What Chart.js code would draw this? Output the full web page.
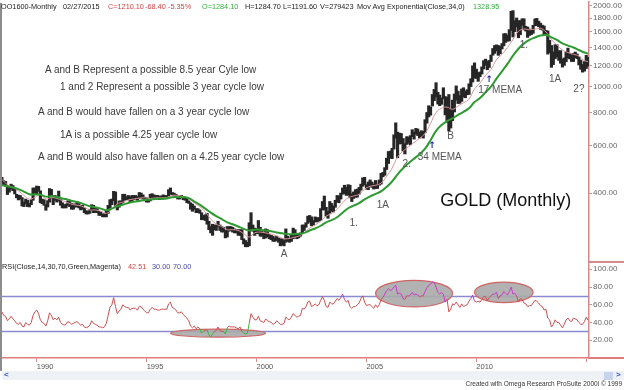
<!DOCTYPE html>
<html>
<head>
<meta charset="utf-8">
<script src="https://cdn.jsdelivr.net/npm/chart.js@4.4.1/dist/chart.umd.min.js"></script>
<style>
  body { margin: 0; background: #fff; width: 624px; height: 390px; overflow: hidden; position: relative; font-family: Arial, "Liberation Sans", sans-serif; }
  canvas { position: absolute; left: 0; }
  .t { position: absolute; white-space: pre; line-height: 1; }
  .hd { font-size: 7.3px; top: 2.5px; color: #222; }
  .note { font-size: 10px; color: #3a3a3a; }
  .red { color: #d04646; }
  .grn { color: #2fae3a; }
  .blu { color: #4a4ab0; }
</style>
</head>
<body>
<canvas id="priceChart" width="624" height="262" style="top:0"></canvas>
<canvas id="rsiChart" width="624" height="110" style="top:262px"></canvas>

<div style="position:absolute;left:0;top:3px;width:2px;height:368px;background:#8c8c8c"></div>
<div style="position:absolute;left:589px;top:261px;width:35px;height:1.5px;background:#d88a8a"></div>
<div style="position:absolute;left:589px;top:357px;width:35px;height:1.5px;background:#e07c7c"></div>

<span class="t hd" style="left:1px">OO1600-Monthly</span>
<span class="t hd" style="left:63px">02/27/2015</span>
<span class="t hd red" style="left:108px">C=1210.10</span>
<span class="t hd red" style="left:145px">-68.40</span>
<span class="t hd red" style="left:168px">-5.35%</span>
<span class="t hd grn" style="left:202px">O=1284.10</span>
<span class="t hd" style="left:245px">H=1284.70</span>
<span class="t hd" style="left:283px">L=1191.60</span>
<span class="t hd" style="left:320px">V=279423</span>
<span class="t hd" style="left:357px">Mov Avg Exponential(Close,34,0)</span>
<span class="t hd grn" style="left:473px">1328.95</span>

<span class="t note" style="left:45px;top:65px">A and B Represent a possible 8.5 year Cyle low</span>
<span class="t note" style="left:60px;top:82px">1 and 2 Represent a possible 3 year cycle low</span>
<span class="t note" style="left:38px;top:107px">A and B would have fallen on a 3 year cycle low</span>
<span class="t note" style="left:60px;top:130px">1A is a possible 4.25 year cycle low</span>
<span class="t note" style="left:38px;top:152px">A and B would also have fallen on a 4.25 year cycle low</span>

<span class="t" style="left:2px;top:263px;font-size:7.3px;color:#222">RSI(Close,14,30,70,Green,Magenta)</span>
<span class="t red" style="left:128px;top:263px;font-size:7.3px">42.51</span>
<span class="t blu" style="left:152px;top:263px;font-size:7.3px">30.00</span>
<span class="t blu" style="left:173px;top:263px;font-size:7.3px">70.00</span>

<div style="position:absolute;left:2px;top:371px;width:622px;height:9px;background:#eef1f6"></div>
<span class="t" style="left:4px;top:371px;font-size:8px;font-weight:bold;color:#3858c8">&lt;</span>
<div style="position:absolute;left:604px;top:372px;width:9px;height:8px;background:#c6d4ee"></div>
<span class="t" style="left:616px;top:371px;font-size:8px;font-weight:bold;color:#3858c8">&gt;</span>
<span class="t" style="right:2px;top:381px;font-size:6.5px;color:#333">Created with Omega Research ProSuite 2000i © 1999</span>

<script>
// monthly bars, June 1988 .. February 2015
const firstYear = 1988, firstMonth = 6, monthCount = 321;
const months = [];
for (let i = 0; i < monthCount; i++) {
    const m = firstMonth - 1 + i;
    months.push(`${firstYear + Math.floor(m / 12)}-${String(m % 12 + 1).padStart(2, '0')}`);
}

const highs = [
    458, 445, 442, 427, 420, 432, 427,                          // 1988
    414, 396, 393, 392, 385, 370, 380, 376, 366, 378, 418, 418, // 1989
    425, 424, 408, 380, 378, 362, 375, 416, 413, 388, 392, 386, // 1990
    407, 380, 368, 362, 364, 374, 372, 366, 364, 364, 372, 368, // 1991
    360, 360, 352, 344, 342, 348, 362, 360, 352, 350, 342, 340, // 1992
    334, 335, 342, 360, 378, 380, 406, 404, 362, 374, 374, 396, // 1993
    396, 388, 392, 388, 392, 392, 392, 388, 402, 400, 394, 386, // 1994
    384, 380, 396, 398, 394, 392, 392, 390, 390, 394, 392, 392, // 1995
    412, 418, 402, 400, 396, 392, 390, 392, 388, 384, 382, 374, // 1996
    368, 364, 358, 350, 350, 346, 338, 330, 332, 336, 314, 300, // 1997
    306, 304, 304, 314, 304, 300, 298, 290, 300, 300, 300, 298, // 1998
    294, 292, 292, 292, 292, 270, 266, 262, 310, 338, 304, 296, // 1999
    294, 316, 298, 290, 284, 294, 292, 280, 278, 276, 272, 276, // 2000
    272, 270, 270, 266, 294, 276, 272, 280, 296, 292, 280, 282, // 2001
    284, 304, 304, 310, 328, 330, 326, 316, 326, 324, 324, 350, // 2002
    372, 390, 354, 342, 372, 366, 358, 376, 392, 390, 400, 418, // 2003
    428, 420, 430, 428, 398, 404, 412, 414, 420, 432, 456, 458, // 2004
    430, 440, 448, 440, 432, 446, 432, 448, 474, 478, 498, 540, // 2005
    572, 574, 588, 660, 732, 676, 670, 668, 640, 612, 650, 648, // 2006
    656, 690, 676, 698, 694, 676, 684, 680, 752, 800, 848, 840, // 2007
    934, 976, 1034, 952, 930, 906, 990, 918, 912, 934, 830, 890, // 2008
    938, 1006, 962, 926, 980, 990, 962, 974, 1024, 1070, 1196, 1226, // 2009
    1162, 1128, 1134, 1184, 1250, 1266, 1246, 1252, 1312, 1388, 1424, 1432, // 2010
    1424, 1412, 1448, 1576, 1578, 1554, 1632, 1912, 1922, 1762, 1804, 1764, // 2011
    1764, 1792, 1792, 1680, 1668, 1640, 1632, 1694, 1790, 1798, 1756, 1726, // 2012
    1696, 1684, 1620, 1614, 1488, 1424, 1348, 1434, 1434, 1362, 1362, 1268, // 2013
    1280, 1346, 1392, 1332, 1316, 1332, 1346, 1324, 1290, 1256, 1210, 1240, // 2014
    1308, 1285                                                   // 2015
];

const lows = [
    436, 428, 424, 395, 403, 414, 408,
    397, 384, 377, 380, 358, 356, 364, 356, 355, 362, 376, 400,
    398, 406, 368, 365, 360, 345, 355, 370, 384, 362, 376, 370,
    374, 360, 352, 352, 352, 360, 356, 348, 348, 354, 356, 352,
    346, 348, 338, 334, 334, 336, 344, 338, 338, 338, 330, 330,
    326, 326, 326, 336, 352, 362, 374, 356, 346, 354, 360, 368,
    376, 378, 378, 370, 374, 378, 380, 376, 382, 384, 380, 374,
    370, 370, 374, 384, 380, 382, 380, 378, 380, 380, 382, 382,
    390, 396, 394, 390, 386, 380, 380, 384, 378, 376, 368, 366,
    348, 342, 348, 338, 338, 336, 318, 318, 316, 306, 292, 284,
    278, 292, 290, 300, 290, 286, 286, 272, 274, 288, 290, 286,
    284, 284, 278, 278, 268, 258, 252, 252, 254, 292, 288, 278,
    282, 282, 276, 276, 270, 272, 274, 270, 268, 264, 264, 266,
    262, 254, 256, 254, 262, 264, 262, 264, 270, 276, 270, 272,
    276, 282, 290, 298, 308, 312, 302, 304, 312, 312, 314, 316,
    346, 346, 328, 322, 336, 342, 340, 354, 370, 368, 380, 396,
    398, 392, 394, 384, 372, 382, 386, 386, 396, 410, 424, 430,
    414, 412, 424, 420, 414, 416, 416, 428, 432, 460, 466, 490,
    516, 540, 538, 584, 642, 542, 610, 612, 574, 560, 608, 614,
    606, 650, 636, 664, 656, 642, 650, 642, 672, 730, 770, 782,
    846, 886, 914, 860, 848, 858, 902, 784, 736, 682, 700, 746,
    804, 890, 864, 866, 880, 914, 908, 932, 934, 1000, 1040, 1076,
    1072, 1046, 1088, 1114, 1164, 1202, 1156, 1178, 1240, 1310, 1330, 1360,
    1308, 1326, 1382, 1420, 1462, 1478, 1480, 1620, 1532, 1604, 1670, 1522,
    1562, 1694, 1628, 1612, 1526, 1552, 1564, 1582, 1686, 1692, 1674, 1636,
    1626, 1554, 1562, 1322, 1338, 1180, 1208, 1270, 1292, 1252, 1222, 1182,
    1200, 1238, 1278, 1268, 1240, 1240, 1282, 1272, 1204, 1160, 1132, 1142,
    1168, 1192
];

// moving averages read every 3rd month (Jun 1988, Sep 1988, ... Dec 2014), then Feb 2015
const ema34 = [
    428, 424, 420,
    414, 405, 396, 395,   395, 388, 390, 387,   382, 378, 373, 369,   363, 357, 354, 350,
    345, 350, 357, 362,   367, 371, 374, 377,   378, 380, 381, 382,   386, 387, 386, 383,
    372, 362, 350, 338,   328, 320, 311, 306,   300, 294, 290, 292,   292, 290, 288, 285,
    283, 281, 281, 282,   284, 290, 295, 302,   311, 317, 325, 338,   351, 359, 367, 379,
    389, 397, 406, 422,   442, 470, 495, 517,   538, 559, 586, 630,   683, 718, 743, 761,
    784, 805, 829, 875,   906, 952, 1000, 1070, 1140, 1215, 1305, 1385, 1450, 1495, 1525, 1552,
    1558, 1527, 1494, 1449, 1423, 1399, 1370, 1340,
    1329
];
const ema17 = [
    450, 430, 420,
    408, 392, 380, 385,   395, 380, 385, 382,   375, 368, 362, 360,   354, 346, 346, 342,
    336, 348, 365, 370,   377, 380, 383, 384,   382, 384, 384, 385,   392, 392, 388, 382,
    368, 356, 340, 320,   306, 300, 292, 292,   290, 282, 274, 284,   286, 284, 281, 277,
    271, 270, 273, 276,   284, 296, 304, 314,   328, 336, 348, 368,   384, 390, 396, 414,
    424, 428, 436, 462,   496, 546, 574, 596,   618, 640, 668, 728,   800, 830, 838, 822,
    846, 870, 898, 980,   1030, 1100, 1160, 1260, 1320, 1400, 1500, 1610, 1640, 1630, 1640, 1650,
    1600, 1500, 1430, 1370, 1340, 1320, 1300, 1250,
    1240
];

const rsi = [
    52, 48, 47, 42, 44, 47, 44,
    42, 39, 38, 40, 36, 35, 40, 38, 37, 40, 48, 52,
    54, 50, 43, 40, 39, 36, 42, 51, 48, 43, 45, 43,
    46, 40, 38, 37, 38, 41, 40, 38, 39, 40, 41, 39,
    37, 38, 35, 34, 35, 37, 42, 39, 38, 37, 35, 35,
    34, 35, 39, 48, 57, 60, 68, 58, 50, 53, 55, 60,
    58, 57, 57, 54, 56, 56, 56, 54, 58, 58, 55, 53,
    51, 51, 55, 57, 55, 55, 54, 54, 55, 55, 55, 55,
    61, 63, 57, 56, 54, 51, 51, 52, 49, 47, 45, 42,
    36, 34, 36, 33, 35, 33, 28, 30, 31, 32, 26, 24,
    27, 30, 31, 35, 31, 30, 30, 27, 34, 36, 35, 35,
    35, 34, 33, 35, 30, 28, 27, 28, 39, 50, 46, 43,
    43, 47, 42, 41, 40, 44, 42, 41, 40, 38, 39, 42,
    40, 38, 38, 39, 46, 44, 43, 46, 50, 48, 46, 47,
    48, 56, 55, 58, 63, 64, 58, 59, 61, 59, 60, 65,
    69, 65, 58, 57, 63, 61, 61, 64, 67, 65, 68, 72,
    66, 63, 65, 58, 56, 58, 58, 60, 62, 67, 70, 63,
    59, 60, 60, 58, 56, 60, 57, 60, 66, 68, 72, 76,
    78, 76, 77, 80, 82, 72, 73, 72, 67, 66, 70, 70,
    71, 74, 71, 72, 71, 69, 70, 70, 75, 79, 82, 83,
    86, 85, 80, 74, 72, 74, 72, 63, 66, 52, 55, 61,
    60, 63, 60, 57, 61, 58, 59, 60, 64, 67, 71, 64,
    63, 64, 63, 66, 69, 69, 65, 68, 70, 72, 72, 74,
    67, 70, 71, 75, 73, 71, 75, 80, 72, 73, 70, 63,
    67, 66, 62, 61, 58, 59, 59, 62, 65, 64, 62, 59,
    58, 54, 55, 45, 43, 35, 38, 43, 40, 40, 37, 34,
    38, 43, 45, 42, 41, 45, 44, 43, 40, 38, 38, 41,
    46, 42.51
];

const priceTicks = [400, 600, 800, 1000, 1200, 1400, 1600, 1800, 2000];
const rsiTicks = [20, 40, 60, 80, 100];
const rsiLevels = [30, 70];
const yearTicks = ['1990-01', '1995-01', '2000-01', '2005-01', '2010-01', '2015-01'];
const yearTickLabels = ['1990', '1995', '2000', '2005', '2010', ''];

// text marks on the price panel (month, price)
const priceNotes = [
    { text: 'A', month: '2001-04', price: 236 },
    { text: 'B', month: '2008-11', price: 653 },
    { text: '1.', month: '2004-06', price: 309 },
    { text: '1A', month: '2005-10', price: 361 },
    { text: '2.', month: '2006-11', price: 513 },
    { text: '34 MEMA', month: '2008-05', price: 546 },
    { text: '17 MEMA', month: '2011-02', price: 971 },
    { text: '1.', month: '2012-03', price: 1430 },
    { text: '1A', month: '2013-08', price: 1067 },
    { text: '2?', month: '2014-09', price: 979 },
    { text: '↑', month: '2008-01', price: 600, color: '#1c2a9c', font: 'bold 9px "DejaVu Sans"' },
    { text: '↑', month: '2010-08', price: 1058, color: '#1c2a9c', font: 'bold 9px "DejaVu Sans"' },
    { text: 'GOLD (Monthly)', month: '2011-05', price: 373, color: '#111', font: '18px Arial' }
];

// grey ovals on the RSI panel: centre month, half width in months, centre RSI, half height
const rsiOvals = [
    { month: '1998-04', halfMonths: 26, value: 28, halfValue: 4.5 },
    { month: '2007-03', halfMonths: 21, value: 72.6, halfValue: 15 },
    { month: '2011-04', halfMonths: 16, value: 74, halfValue: 11.6 }
];

const quarterPoints = values => values.map((v, i) => ({ x: months[Math.min(i * 3, monthCount - 1)], y: v }));

const axisRed = '#d68a8a';

const notesPlugin = {
    id: 'notes',
    afterDatasetsDraw(chart) {
        const { ctx, scales: { x, y } } = chart;
        ctx.save();
        ctx.textAlign = 'center';
        ctx.textBaseline = 'middle';
        priceNotes.forEach(n => {
            ctx.font = n.font || '10px Arial';
            ctx.fillStyle = n.color || '#555';
            ctx.fillText(n.text, x.getPixelForValue(months.indexOf(n.month)), y.getPixelForValue(n.price));
        });
        ctx.restore();
    }
};

const rsiDecorPlugin = {
    id: 'rsiDecor',
    beforeDatasetsDraw(chart) {
        const { ctx, scales: { x, y }, chartArea } = chart;
        ctx.save();
        ctx.strokeStyle = '#8a8ad0';
        ctx.lineWidth = 1.5;
        rsiLevels.forEach(v => {
            const py = Math.round(y.getPixelForValue(v)) + 0.5;
            ctx.beginPath();
            ctx.moveTo(0, py);
            ctx.lineTo(chartArea.right, py);
            ctx.stroke();
        });
        const step = x.getPixelForValue(1) - x.getPixelForValue(0);
        rsiOvals.forEach(o => {
            const cx = x.getPixelForValue(months.indexOf(o.month));
            const cy = y.getPixelForValue(o.value);
            const ry = Math.abs(y.getPixelForValue(o.value + o.halfValue) - cy);
            ctx.beginPath();
            ctx.ellipse(cx, cy, o.halfMonths * step, ry, 0, 0, Math.PI * 2);
            ctx.fillStyle = 'rgba(170,170,170,0.9)';
            ctx.fill();
            ctx.strokeStyle = '#d06464';
            ctx.lineWidth = 1.2;
            ctx.stroke();
        });
        ctx.restore();
    }
};

new Chart(document.getElementById('priceChart'), {
    type: 'bar',
    data: {
        labels: months,
        datasets: [
            { type: 'line', label: 'EMA 34', data: quarterPoints(ema34), borderColor: '#2f9a32', borderWidth: 2, pointRadius: 0, tension: 0.4, order: 1 },
            { type: 'line', label: 'EMA 17', data: quarterPoints(ema17), borderColor: '#d9959a', borderWidth: 1, pointRadius: 0, tension: 0.4, order: 2 },
            { label: 'Gold', data: lows.map((l, i) => [l, highs[i]]), backgroundColor: '#262626', barThickness: 2.5, order: 3 }
        ]
    },
    options: {
        responsive: false,
        animation: false,
        layout: { padding: { top: 2, bottom: 1, left: 1, right: 0 } },
        plugins: { legend: { display: false }, tooltip: { enabled: false } },
        scales: {
            x: { display: false, offset: true },
            y: {
                type: 'logarithmic', position: 'right', min: 223, max: 2070,
                afterBuildTicks: s => { s.ticks = priceTicks.map(v => ({ value: v })); },
                afterFit: s => { s.width = 35; s.paddingTop = 0; s.paddingBottom = 0; },
                grid: { drawOnChartArea: false, tickLength: 3, color: axisRed },
                border: { color: axisRed, width: 1.5 },
                ticks: { callback: v => Number(v).toFixed(2), font: { size: 8, family: 'Arial' }, color: '#666', padding: 1 }
            }
        }
    },
    plugins: [notesPlugin]
});

new Chart(document.getElementById('rsiChart'), {
    type: 'line',
    data: {
        labels: months,
        datasets: [{
            label: 'RSI', data: rsi, borderColor: '#c85050', borderWidth: 1, pointRadius: 0, tension: 0,
            segment: {
                borderColor: c => (c.p0.parsed.y > 70 || c.p1.parsed.y > 70) ? '#c83cc8'
                    : (c.p0.parsed.y < 30 || c.p1.parsed.y < 30) ? '#3cb43c' : '#c85050'
            }
        }]
    },
    options: {
        responsive: false,
        animation: false,
        layout: { padding: { top: 0, bottom: 0, left: 1, right: 0 } },
        plugins: { legend: { display: false }, tooltip: { enabled: false } },
        scales: {
            x: {
                offset: true,
                afterBuildTicks: s => { s.ticks = yearTicks.map(m => ({ value: months.indexOf(m) })); },
                afterFit: s => { s.height = 14; s.paddingLeft = 0; s.paddingRight = 0; },
                grid: { drawOnChartArea: false, offset: false, tickLength: 4, color: axisRed },
                border: { color: '#e07c7c', width: 1.5 },
                ticks: { autoSkip: false, maxRotation: 0, align: 'start', padding: 0, font: { size: 7.5, family: 'Arial' }, color: '#555',
                         callback: (v, i) => yearTickLabels[i] }
            },
            y: {
                position: 'right', min: 0, max: 108.2,
                afterBuildTicks: s => { s.ticks = rsiTicks.map(v => ({ value: v })); },
                afterFit: s => { s.width = 35; s.paddingTop = 0; s.paddingBottom = 0; },
                grid: { drawOnChartArea: false, tickLength: 3, color: axisRed },
                border: { color: axisRed, width: 1.5 },
                ticks: { callback: v => Number(v).toFixed(2), font: { size: 8, family: 'Arial' }, color: '#666', padding: 1 }
            }
        }
    },
    plugins: [rsiDecorPlugin]
});
</script>
</body>
</html>
